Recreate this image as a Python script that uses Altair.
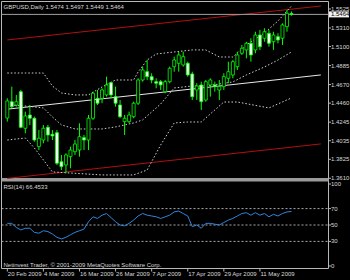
import altair as alt
import pandas as pd

# ---------------- data ----------------
symbol = "GBPUSD,Daily"
last_ohlc = [1.5474, 1.5497, 1.5449, 1.5464]
rsi_name = "RSI(14)"
rsi_last = 66.4533
copyright_text = "Netinvest Trader, \u00a9 2001-2009 MetaQuotes Software Corp."

opens = [1.4292, 1.4476, 1.4439, 1.4590, 1.4176, 1.4326, 1.4289, 1.3968, 1.4043, 1.4187,
         1.4108, 1.4126, 1.3798, 1.3761, 1.3855, 1.3911, 1.3930, 1.4070, 1.4043, 1.4289,
         1.4515, 1.4515, 1.4553, 1.4692, 1.4534, 1.4439, 1.4251, 1.4251, 1.4307, 1.4459,
         1.4722, 1.4816, 1.4760, 1.4703, 1.4703, 1.4590, 1.4703, 1.4873, 1.4911, 1.4892,
         1.4911, 1.4790, 1.4609, 1.4666, 1.4496, 1.4666, 1.4666, 1.4609, 1.4647, 1.4741,
         1.4779, 1.4873, 1.5024, 1.5062, 1.5137, 1.5062, 1.5231, 1.5194, 1.5250, 1.5155,
         1.5212, 1.5194, 1.5325, 1.5474]
highs = [1.4515, 1.4647, 1.4553, 1.4609, 1.4364, 1.4439, 1.4307, 1.4157, 1.4213, 1.4213,
         1.4157, 1.4157, 1.3874, 1.3893, 1.3968, 1.4043, 1.4232, 1.4100, 1.4326, 1.4590,
         1.4609, 1.4628, 1.4760, 1.4703, 1.4647, 1.4496, 1.4326, 1.4364, 1.4477, 1.4741,
         1.4873, 1.4948, 1.4798, 1.4741, 1.4722, 1.4722, 1.4873, 1.4986, 1.5042, 1.5042,
         1.4929, 1.4816, 1.4685, 1.4703, 1.4722, 1.4741, 1.4703, 1.4722, 1.4798, 1.4929,
         1.4948, 1.5042, 1.5118, 1.5155, 1.5194, 1.5268, 1.5288, 1.5307, 1.5288, 1.5268,
         1.5250, 1.5363, 1.5514, 1.5497]
lows = [1.4251, 1.4402, 1.4420, 1.4176, 1.4119, 1.4213, 1.4024, 1.3930, 1.4006, 1.4024,
        1.4043, 1.3761, 1.3704, 1.3667, 1.3723, 1.3874, 1.3855, 1.3930, 1.3930, 1.4270,
        1.4439, 1.4459, 1.4534, 1.4515, 1.4420, 1.4289, 1.4100, 1.4232, 1.4289, 1.4439,
        1.4703, 1.4722, 1.4685, 1.4628, 1.4609, 1.4572, 1.4685, 1.4816, 1.4816, 1.4873,
        1.4760, 1.4496, 1.4496, 1.4383, 1.4477, 1.4534, 1.4590, 1.4496, 1.4609, 1.4685,
        1.4741, 1.4835, 1.5005, 1.4967, 1.4929, 1.5024, 1.5062, 1.5155, 1.5099, 1.5062,
        1.5137, 1.5118, 1.5268, 1.5449]
closes = [1.4485, 1.4420, 1.4476, 1.4187, 1.4315, 1.4289, 1.4043, 1.4063, 1.4176, 1.4100,
          1.4089, 1.3780, 1.3742, 1.3874, 1.3930, 1.3998, 1.4081, 1.4043, 1.4289, 1.4572,
          1.4459, 1.4609, 1.4666, 1.4553, 1.4459, 1.4307, 1.4289, 1.4326, 1.4459, 1.4722,
          1.4835, 1.4760, 1.4722, 1.4685, 1.4666, 1.4703, 1.4854, 1.4948, 1.5005, 1.4986,
          1.4779, 1.4533, 1.4654, 1.4477, 1.4703, 1.4722, 1.4647, 1.4647, 1.4760, 1.4816,
          1.4929, 1.5005, 1.5081, 1.5137, 1.5005, 1.5231, 1.5099, 1.5268, 1.5137, 1.5231,
          1.5175, 1.5344, 1.5476, 1.5464]

rsi = [52, 52, 47, 44, 46, 46, 41, 40, 43, 42,
       39, 35, 33, 35, 38, 41, 43, 45, 54, 60,
       58, 62, 64, 59, 54, 50, 49, 52, 56, 61,
       64, 62, 61, 60, 58, 60, 62, 66, 67, 64,
       61, 48, 50, 46, 52, 52, 51, 50, 53, 56,
       58, 61, 64, 65, 62, 65, 62, 64, 60, 63,
       61, 64, 66, 66.45]

bb_upper_idx = [0, 4, 8, 10, 12, 15, 18, 21, 24, 28, 29, 31, 33, 37, 41, 44, 47, 50, 53, 57, 60, 63]
bb_upper = [1.4801, 1.4801, 1.4801, 1.4654, 1.4575, 1.4553, 1.4553, 1.4643, 1.4722, 1.4722, 1.4813,
            1.4948, 1.5016, 1.5039, 1.5062, 1.5062, 1.4982, 1.4982, 1.5118, 1.5254, 1.5389, 1.5559]
bb_mid_idx = [0, 4, 8, 10, 12, 15, 21, 24, 28, 30, 32, 34, 37, 41, 44, 47, 50, 53, 57, 60, 63]
bb_mid = [1.4439, 1.4428, 1.4406, 1.4304, 1.4214, 1.4168, 1.4168, 1.4191, 1.4236, 1.4270, 1.4360,
          1.4451, 1.4632, 1.4654, 1.4654, 1.4677, 1.4700, 1.4779, 1.4869, 1.4948, 1.5039]
bb_lower_idx = [0, 4, 6, 10, 21, 28, 31, 34, 37, 40, 43, 48, 51, 58, 63]
bb_lower = [1.4043, 1.4066, 1.3953, 1.3682, 1.3648, 1.3648, 1.3704, 1.3987, 1.4236, 1.4247,
            1.4247, 1.4473, 1.4473, 1.4406, 1.4519]

channel_idx = [0, 69.5]
channel_upper = [1.5175, 1.5559]
channel_mid = [1.4392, 1.4779]
channel_lower = [1.3609, 1.3999]

price_ticks = [1.5525, 1.5310, 1.5100, 1.4885, 1.4670, 1.4460, 1.4245, 1.4035, 1.3825, 1.3610]
rsi_ticks = [100, 70, 50, 30, 0]
rsi_levels = [70, 50, 30]
date_idx = [0, 8, 16, 24, 32, 40, 48, 56]
date_labels = ["20 Feb 2009", "4 Mar 2009", "16 Mar 2009", "26 Mar 2009",
               "7 Apr 2009", "17 Apr 2009", "29 Apr 2009", "11 May 2009"]

# ---------------- tables ----------------
n = len(opens)
candles = pd.DataFrame({"i": list(range(n)), "o": opens, "h": highs, "l": lows, "c": closes})
candles["dir"] = ["bull" if c >= o else "bear" for o, c in zip(opens, closes)]
rsi_df = pd.DataFrame({"i": list(range(n)), "rsi": rsi})
up_df = pd.DataFrame({"i": bb_upper_idx, "v": bb_upper})
mid_df = pd.DataFrame({"i": bb_mid_idx, "v": bb_mid})
lo_df = pd.DataFrame({"i": bb_lower_idx, "v": bb_lower})
chan_df = pd.DataFrame({"i": channel_idx, "up": channel_upper, "mid": channel_mid, "lo": channel_lower})
pt_df = pd.DataFrame({"p": price_ticks, "t": [f"{p:.4f}" for p in price_ticks]})
rt_df = pd.DataFrame({"r": rsi_ticks, "t": [str(r) for r in rsi_ticks]})
lvl_df = pd.DataFrame({"r": rsi_levels})
date_df = pd.DataFrame({"i": date_idx, "t": date_labels})
last_df = pd.DataFrame({"p": [last_ohlc[3]], "t": [f"{last_ohlc[3]:.4f}"]})
one = pd.DataFrame({"k": [0]})

# ---------------- scales ----------------
XS = alt.Scale(domain=[0, 63], range=[2.3, 296.5], nice=False, zero=False)
PS = alt.Scale(domain=[1.3610, 1.5525], range=[178.3, 9], nice=False, zero=False)
RS = alt.Scale(domain=[0, 100], range=[266, 184], nice=False, zero=False)

FONT = "Liberation Sans"
FS = 6
TXT = "#D8D8D8"
FRAME = "#B8B8B8"

def X(f):
    return alt.X(f, scale=XS, axis=None)

def PY(f):
    return alt.Y(f, scale=PS, axis=None)

def PY2(f):
    return alt.Y2(f)

layers = []

# frame
def hrule(y, x1, x2, color=FRAME, w=1):
    return alt.Chart(one).mark_rule(color=color, strokeWidth=w).encode(
        x=alt.value(x1), x2=alt.value(x2), y=alt.value(y))

def vrule(x, y1, y2, color=FRAME, w=1):
    return alt.Chart(one).mark_rule(color=color, strokeWidth=w).encode(
        x=alt.value(x), y=alt.value(y1), y2=alt.value(y2))

layers += [
    hrule(1.5, 1.5, 328.5),
    vrule(1.5, 1.5, 268.5),
    vrule(328.5, 1.5, 268.5),
    hrule(268.5, 1.5, 328.5),
    alt.Chart(one).mark_rect(color="#9A9A9A").encode(
        x=alt.value(1.5), x2=alt.value(328.5), y=alt.value(178), y2=alt.value(181.5)),
]

# regression channel
layers += [
    alt.Chart(chan_df).mark_line(color="#B01010", strokeWidth=1).encode(x=X("i:Q"), y=PY("up:Q")),
    alt.Chart(chan_df).mark_line(color="#B01010", strokeWidth=1).encode(x=X("i:Q"), y=PY("lo:Q")),
    alt.Chart(chan_df).mark_line(color="#E8E8E8", strokeWidth=1).encode(x=X("i:Q"), y=PY("mid:Q")),
]

# Bollinger bands
for d in (up_df, mid_df, lo_df):
    layers.append(alt.Chart(d).mark_line(color="#D0D0D0", strokeWidth=1, strokeDash=[1.5, 2]).encode(
        x=X("i:Q"), y=PY("v:Q")))

# bid line
layers.append(alt.Chart(last_df).mark_rule(color="#A0A0A0", strokeWidth=1).encode(
    x=alt.value(1.5), x2=alt.value(328.5), y=PY("p:Q")))

# candles
layers.append(alt.Chart(candles).mark_rule(color="#00FF00", strokeWidth=1).encode(
    x=X("i:Q"), y=PY("l:Q"), y2=PY2("h:Q")))
layers.append(alt.Chart(candles).mark_bar(size=3, stroke="#00FF00", strokeWidth=0.8).encode(
    x=X("i:Q"), y=PY("o:Q"), y2=PY2("c:Q"),
    fill=alt.Fill("dir:N", scale=alt.Scale(domain=["bull", "bear"], range=["#000000", "#F0FFF0"]),
                  legend=None)))

# price axis ticks and labels
layers.append(alt.Chart(pt_df).mark_rule(color=FRAME).encode(
    x=alt.value(328.5), x2=alt.value(331), y=PY("p:Q")))
layers.append(alt.Chart(pt_df).mark_text(align="left", baseline="middle", font=FONT, fontSize=FS,
                                         color=TXT).encode(
    x=alt.value(331), y=PY("p:Q"), text="t:N"))

# current price box
layers.append(alt.Chart(last_df).mark_rect(color="#F2F2F2", yOffset=-3, y2Offset=3).encode(
    x=alt.value(329), x2=alt.value(349), y=PY("p:Q"), y2=PY2("p:Q")))
layers.append(alt.Chart(last_df).mark_text(align="left", baseline="middle", font=FONT, fontSize=FS,
                                           color="#000000").encode(
    x=alt.value(331), y=PY("p:Q"), text="t:N"))

# RSI panel
layers.append(alt.Chart(lvl_df).mark_rule(color="#A8A8A8", strokeWidth=1, strokeDash=[2, 2]).encode(
    x=alt.value(1.5), x2=alt.value(328.5), y=alt.Y("r:Q", scale=RS, axis=None)))
layers.append(alt.Chart(rsi_df).mark_line(color="#2E86E0", strokeWidth=1).encode(
    x=X("i:Q"), y=alt.Y("rsi:Q", scale=RS, axis=None)))
layers.append(alt.Chart(rt_df).mark_rule(color=FRAME).encode(
    x=alt.value(328.5), x2=alt.value(331), y=alt.Y("r:Q", scale=RS, axis=None)))
layers.append(alt.Chart(rt_df).mark_text(align="left", baseline="middle", font=FONT, fontSize=FS,
                                         color=TXT).encode(
    x=alt.value(331), y=alt.Y("r:Q", scale=RS, axis=None), text="t:N"))

# date axis
layers.append(alt.Chart(date_df).mark_rule(color=FRAME).encode(
    x=X("i:Q"), y=alt.value(268.5), y2=alt.value(271.5)))
layers.append(alt.Chart(date_df).mark_text(align="left", baseline="middle", font=FONT, fontSize=FS,
                                           color=TXT, dx=0.5).encode(
    x=X("i:Q"), y=alt.value(274), text="t:N"))

# header texts
header = f"{symbol}  " + " ".join(f"{v:.4f}" for v in last_ohlc)
layers.append(alt.Chart(one).mark_text(align="left", baseline="middle", font=FONT, fontSize=FS,
                                       color=TXT).encode(
    x=alt.value(3.5), y=alt.value(6.5), text=alt.value(header)))
layers.append(alt.Chart(one).mark_text(align="left", baseline="middle", font=FONT, fontSize=FS,
                                       color=TXT).encode(
    x=alt.value(3.5), y=alt.value(186.5), text=alt.value(f"{rsi_name} {rsi_last:.4f}")))
layers.append(alt.Chart(one).mark_text(align="left", baseline="middle", font=FONT, fontSize=FS,
                                       color=TXT).encode(
    x=alt.value(3.5), y=alt.value(264.5), text=alt.value(copyright_text)))

chart = alt.layer(*layers).resolve_scale(y="independent", fill="independent").properties(
    width=350, height=280, autosize=alt.AutoSizeParams(type="none"), padding=0
).configure(background="#000000").configure_view(strokeWidth=0)

chart.save("out.html", embed_options={"renderer": "svg", "actions": False})
